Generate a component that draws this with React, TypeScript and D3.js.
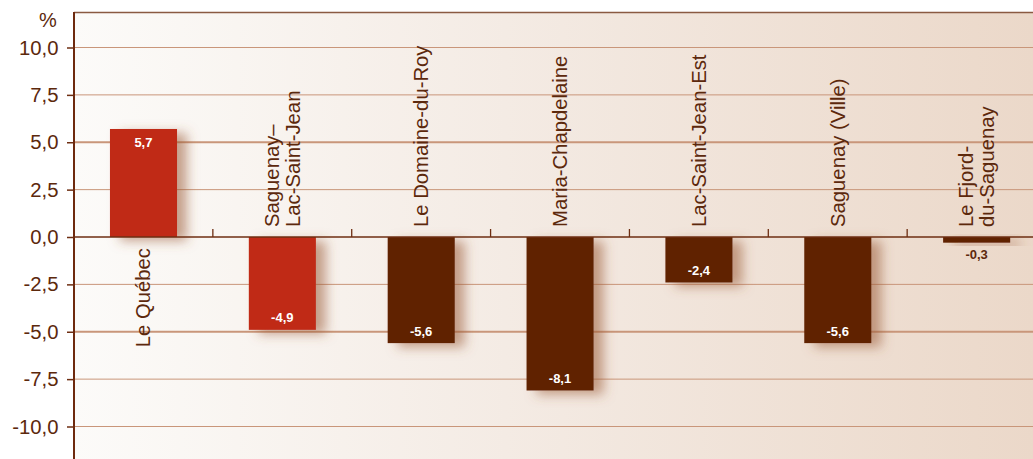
import React, { useEffect, useRef } from 'react';
import * as d3 from 'd3';

// Values
const categories = [
  'Le Québec',
  'Saguenay–|Lac-Saint-Jean',
  'Le Domaine-du-Roy',
  'Maria-Chapdelaine',
  'Lac-Saint-Jean-Est',
  'Saguenay (Ville)',
  'Le Fjord-|du-Saguenay',
];
const values = [5.7, -4.9, -5.6, -8.1, -2.4, -5.6, -0.3];
const highlighted = [true, true, false, false, false, false, false];
const yTicks = [10, 7.5, 5, 2.5, 0, -2.5, -5, -7.5, -10];

const W = 1033;
const H = 459;
const FONT = '"Liberation Sans", Arial, Helvetica, sans-serif';
const TEXT = '#5c280c';

const App: React.FC = () => {
  const svgRef = useRef<SVGSVGElement>(null);

  useEffect(() => {
    document.body.style.margin = '0';
    if (!svgRef.current) return;

    const svg = d3.select(svgRef.current);
    svg.selectAll('*').remove();

    const left = 74;
    const top = 12;

    const x = d3.scaleBand<string>()
      .domain(categories)
      .range([left, left + 7 * 138.86])
      .padding(0);

    const y = d3.scaleLinear()
      .domain([-10, 10])
      .range([426.5, 47.5]);

    const defs = svg.append('defs');
    const grad = defs.append('linearGradient')
      .attr('id', 'bg')
      .attr('x1', '0%').attr('x2', '100%')
      .attr('y1', '0%').attr('y2', '0%');
    grad.append('stop').attr('offset', '0%').attr('stop-color', '#fcfbf9');
    grad.append('stop').attr('offset', '45%').attr('stop-color', '#f4ebe4');
    grad.append('stop').attr('offset', '100%').attr('stop-color', '#ebd8c9');

    const shadow = defs.append('filter')
      .attr('id', 'shadow')
      .attr('x', '-40%').attr('y', '-40%')
      .attr('width', '190%').attr('height', '190%');
    shadow.append('feDropShadow')
      .attr('dx', 10).attr('dy', 4)
      .attr('stdDeviation', 6)
      .attr('flood-color', '#9a5a36')
      .attr('flood-opacity', 0.55);

    // Plot background
    svg.append('rect')
      .attr('x', left).attr('y', top)
      .attr('width', W - left).attr('height', H - top)
      .attr('fill', 'url(#bg)');

    // Grid lines
    svg.append('g')
      .selectAll('line')
      .data(yTicks.filter(d => d !== 0))
      .enter()
      .append('line')
      .attr('x1', left).attr('x2', W)
      .attr('y1', d => y(d)).attr('y2', d => y(d))
      .attr('stroke', '#c9967a')
      .attr('stroke-width', d => (Math.abs(d) === 5 ? 1.8 : 1));

    // Top border
    svg.append('line')
      .attr('x1', left).attr('x2', W)
      .attr('y1', top + 0.5).attr('y2', top + 0.5)
      .attr('stroke', '#8a5a42')
      .attr('stroke-width', 1.5);

    // Bars
    svg.append('g')
      .selectAll('rect')
      .data(values)
      .enter()
      .append('rect')
      .attr('x', (d, i) => (x(categories[i]) || 0) + x.bandwidth() * 0.259)
      .attr('width', x.bandwidth() * 0.483)
      .attr('y', d => y(Math.max(0, d)))
      .attr('height', d => Math.abs(y(d) - y(0)))
      .attr('fill', (d, i) => (highlighted[i] ? '#c02b19' : '#602000'))
      .attr('filter', 'url(#shadow)');

    // Zero line and category ticks
    svg.append('line')
      .attr('x1', left).attr('x2', W)
      .attr('y1', y(0)).attr('y2', y(0))
      .attr('stroke', '#6e2e12')
      .attr('stroke-width', 1.5);

    svg.append('g')
      .selectAll('line')
      .data(categories.slice(1))
      .enter()
      .append('line')
      .attr('x1', d => x(d) || 0).attr('x2', d => x(d) || 0)
      .attr('y1', y(0) - 8).attr('y2', y(0))
      .attr('stroke', '#6e2e12')
      .attr('stroke-width', 1.3);

    // Y axis
    const yAxis = svg.append('g')
      .attr('transform', `translate(${left},0)`)
      .call(d3.axisLeft(y)
        .tickValues(yTicks)
        .tickSize(7)
        .tickPadding(8.5)
        .tickFormat(d => d3.format('.1f')(d as number).replace('.', ',').replace('−', '-')));

    yAxis.select('.domain').remove();
    yAxis.selectAll('.tick line').attr('stroke', '#6e2e12').attr('stroke-width', 1.5);
    yAxis.selectAll('.tick text')
      .attr('fill', TEXT)
      .style('font-family', FONT)
      .style('font-size', '20.3px');

    svg.append('line')
      .attr('x1', left).attr('x2', left)
      .attr('y1', top).attr('y2', H)
      .attr('stroke', '#6e2a0e')
      .attr('stroke-width', 2);

    svg.append('text')
      .attr('x', 48).attr('y', 27)
      .attr('text-anchor', 'middle')
      .attr('fill', TEXT)
      .style('font-family', FONT)
      .style('font-size', '20px')
      .text('%');

    // Value labels
    svg.append('g')
      .selectAll('text')
      .data(values)
      .enter()
      .append('text')
      .attr('x', (d, i) => (x(categories[i]) || 0) + x.bandwidth() / 2)
      .attr('y', d => {
        if (Math.abs(d) < 1) return y(d) + 16;
        return d > 0 ? y(d) + 18 : y(d) - 7.5;
      })
      .attr('text-anchor', 'middle')
      .attr('fill', d => (Math.abs(d) < 1 ? TEXT : '#ffffff'))
      .style('font-family', FONT)
      .style('font-size', '13px')
      .style('font-weight', 'bold')
      .text(d => d3.format('.1f')(d).replace('.', ',').replace('−', '-'));

    // Category labels (rotated)
    categories.forEach((cat, i) => {
      const lines = cat.split('|');
      const cx = (x(cat) || 0) + x.bandwidth() / 2;
      const positive = values[i] > 0;
      const anchorY = positive ? y(0) + 11 : y(0) - 10;
      const lineH = 20.5;
      const t = svg.append('text')
        .attr('transform', `translate(${cx},${anchorY}) rotate(-90)`)
        .attr('text-anchor', positive ? 'end' : 'start')
        .attr('fill', TEXT)
        .style('font-family', FONT)
        .style('font-size', '20.3px');
      lines.forEach((ln, j) => {
        const off = (j - (lines.length - 1) / 2) * lineH;
        t.append('tspan')
          .attr('x', 0)
          .attr('y', off + 7)
          .text(ln);
      });
    });
  }, []);

  return (
    <div style={{ width: W, height: H, background: '#ffffff' }}>
      <svg ref={svgRef} width={W} height={H} style={{ display: 'block' }} />
    </div>
  );
};

export default App;
